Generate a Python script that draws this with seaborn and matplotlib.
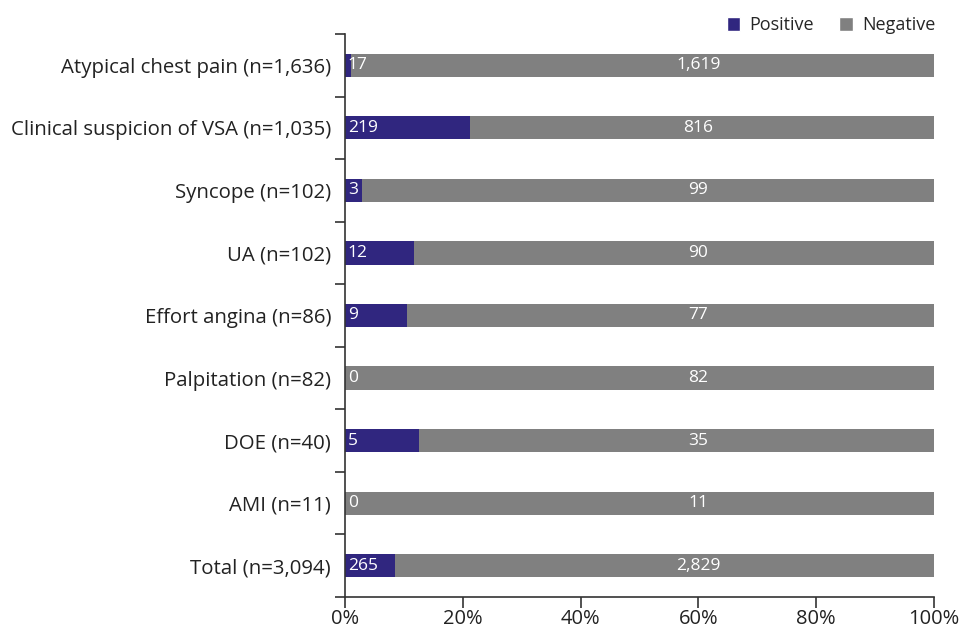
import matplotlib
matplotlib.use("Agg")
import matplotlib.pyplot as plt
from matplotlib.patches import Patch
from matplotlib.ticker import FixedLocator, PercentFormatter
import numpy as np
import pandas as pd
import seaborn as sns

categories = [
    "Atypical chest pain (n=1,636)",
    "Clinical suspicion of VSA (n=1,035)",
    "Syncope (n=102)",
    "UA (n=102)",
    "Effort angina (n=86)",
    "Palpitation (n=82)",
    "DOE (n=40)",
    "AMI (n=11)",
    "Total (n=3,094)",
]
positive = [17, 219, 3, 12, 9, 0, 5, 0, 265]
negative = [1619, 816, 99, 90, 77, 82, 35, 11, 2829]

POS_COLOR = "#30267f"
NEG_COLOR = "#808080"

df = pd.DataFrame({"category": categories, "positive": positive, "negative": negative})
df["total"] = df["positive"] + df["negative"]
df["pos_pct"] = df["positive"] / df["total"] * 100
df["full"] = 100.0

sns.set_theme(style="white")
plt.rcParams["font.family"] = ["Open Sans", "DejaVu Sans"]

fig = plt.figure(figsize=(9.62, 6.32), dpi=100)
ax = fig.add_axes([0.3586, 0.0554, 0.6123, 0.8908])

# Negative share spans the whole bar; positive share drawn on top from zero
sns.barplot(data=df, x="full", y="category", color=NEG_COLOR, width=0.37,
            saturation=1, linewidth=0, ax=ax, orient="h")
sns.barplot(data=df, x="pos_pct", y="category", color=POS_COLOR, width=0.37,
            saturation=1, linewidth=0, ax=ax, orient="h")

for i, (p, n) in enumerate(zip(df["positive"], df["negative"])):
    ax.text(0.5, i, f"{p:,}", color="white", va="center", ha="left", fontsize=12.5)
    ax.text(60, i, f"{n:,}", color="white", va="center", ha="center", fontsize=12.5)

ax.set_xlim(0, 100)
ax.set_ylim(len(categories) - 0.5, -0.5)
ax.set_xticks([0, 20, 40, 60, 80, 100])
ax.xaxis.set_major_formatter(PercentFormatter(100, decimals=0))
ax.set_xlabel("")
ax.set_ylabel("")

ax.yaxis.set_minor_locator(FixedLocator(np.arange(-0.5, len(categories), 1.0)))
ax.tick_params(axis="y", which="major", length=0, labelsize=14.7, pad=10, colors="#222222")
ax.tick_params(axis="y", which="minor", left=True, length=7, width=1.2, color="#333333")
ax.tick_params(axis="x", which="major", bottom=True, length=8, width=1.2,
               color="#333333", labelsize=14.5, pad=1, labelcolor="#222222")

for side in ["top", "right"]:
    ax.spines[side].set_visible(False)
for side in ["left", "bottom"]:
    ax.spines[side].set_color("#333333")
    ax.spines[side].set_linewidth(1.2)

handles = [Patch(facecolor=POS_COLOR, label="Positive"),
           Patch(facecolor=NEG_COLOR, label="Negative")]
fig.legend(handles=handles, loc="upper right", bbox_to_anchor=(0.989, 1.0), ncol=2,
           frameon=False, fontsize=13, handlelength=0.75, handleheight=0.75,
           handletextpad=0.5, columnspacing=1.4)

fig.savefig("out.png", dpi=100)
